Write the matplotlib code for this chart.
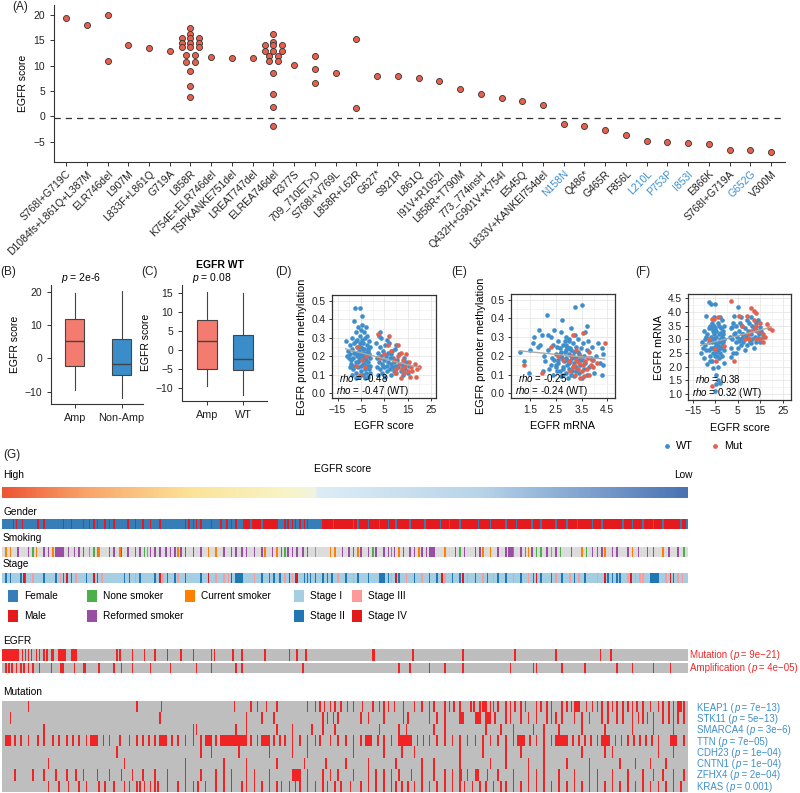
import numpy as np
import matplotlib
matplotlib.use("Agg")
import matplotlib.pyplot as plt
from matplotlib.colors import ListedColormap, LinearSegmentedColormap
from matplotlib.patches import Rectangle

plt.rcParams['font.family'] = ['Liberation Sans', 'DejaVu Sans']
plt.rcParams['mathtext.fontset'] = 'custom'
plt.rcParams['mathtext.it'] = 'Liberation Sans:italic'
plt.rcParams['mathtext.rm'] = 'Liberation Sans'
plt.rcParams['axes.edgecolor'] = '#333333'
plt.rcParams['axes.linewidth'] = 0.8
plt.rcParams['xtick.color'] = '#333333'
plt.rcParams['ytick.color'] = '#333333'
plt.rcParams['xtick.labelcolor'] = '#222222'
plt.rcParams['ytick.labelcolor'] = '#222222'

# ---------------- data: panel A ----------------
a_labels = ["S768I+G719C", "D1084fs+L861Q+L387M", "ELR746del", "L907M", "L833F+L861Q",
            "G719A", "L858R", "K754E+ELR746del", "TSPKANKE751del", "LREAT747del",
            "ELREA746del", "R377S", "709_710ET>D", "S768I+V769L", "L858R+L62R",
            "G627*", "S921R", "L861Q", "I91V+R1052I", "L858R+T790M", "773_774insH",
            "Q432H+G901V+K754I", "E545Q", "L833V+KANKEI754del", "N158N", "Q486*",
            "G465R", "F856L", "L210L", "P753P", "I853I", "E866K", "S768I+G719A",
            "G652G", "V300M"]
a_silent = ["N158N", "L210L", "P753P", "I853I", "G652G"]
a_scores = [
    [19.4], [18.0], [20.1, 10.9], [14.1], [13.4], [13.0],
    [17.4, 16.3, 15.5, 15.5, 15.5, 14.5, 14.5, 14.5, 13.6, 13.6, 13.6,
     12.1, 12.1, 10.7, 10.7, 8.9, 6.0, 3.8],
    [11.7], [11.5], [11.5],
    [16.3, 14.7, 14.0, 14.0, 14.0, 13.0, 13.0, 13.0, 12.0, 12.0, 11.0, 11.0,
     8.6, 4.5, 1.9, -2.0],
    [10.1], [11.9, 9.3, 6.6], [8.5], [15.3, 1.7],
    [8.0], [8.0], [7.6], [6.9], [5.3], [4.5], [3.7], [3.0], [2.2],
    [-1.5], [-2.0], [-2.7], [-3.8], [-4.8], [-5.1], [-5.3], [-5.4], [-6.7], [-6.7], [-7.1]]
a_cutoff = -0.3

# ---------------- data: panels B, C (box stats) ----------------
b_groups = ["Amp", "Non-Amp"]
b_med = [5.3, -1.7]
b_q1 = [-2.2, -5.0]
b_q3 = [11.7, 5.9]
b_lo = [-9.5, -12.0]
b_hi = [19.5, 20.2]

c_groups = ["Amp", "WT"]
c_med = [2.5, -2.2]
c_q1 = [-5.0, -5.1]
c_q3 = [8.0, 3.9]
c_lo = [-9.5, -11.8]
c_hi = [15.4, 15.0]

# ---------------- data: panel D (EGFR score vs methylation) ----------------
d_wt_x = [-11.5, -10.5, -10, -9.8, -9.5, -9.2, -9, -8.7, -8.5, -8.3, -8, -7.8, -7.6, -7.5, -7.3,
          -7, -7, -6.8, -6.6, -6.5, -6.3, -6.2, -6, -5.9, -5.8, -5.6, -5.5, -5.4, -5.3, -5.1,
          -5, -4.9, -4.8, -4.6, -4.5, -4.4, -4.3, -4.1, -4, -3.9, -3.8, -3.6, -3.5, -3.4, -3.2,
          -3.1, -3, -2.9, -2.8, -2.6, -2.5, -2.4, -2.2, -2.1, -2, -1.9, -1.7, -1.6, -1.5, -1.3,
          -1.2, -1.1, -1, -8.8, -6.9, -4.7, -3.3, -5.7, -7.2, -9.6,
          1.5, 1.8, 2, 2.2, 2.5, 2.8, 3, 3.3, 3.5, 3.8, 4, 4.2, 4.5, 4.8, 5, 5.3, 5.5, 5.8, 6,
          6.3, 6.5, 6.8, 7, 7.3, 7.5, 7.8, 8, 8.3, 8.5, 8.8, 9, 9.3, 9.5, 9.8, 10, 10.5, 11,
          11.5, 12, 12.5, 13, 13.5, 14, 14.5, 15, 15.5, 3.2, 6.2, 2.6, 10.2,
          -10.8, -9.3, -8.1, -6.4, -5.2, -4.2, -3.7, -2.7, -1.8, -6.1, -7.9, -4.0, 4.6, 7.7, 9.1, 12.8]
d_wt_y = [0.28, 0.23, 0.19, 0.26, 0.21, 0.16, 0.30, 0.24, 0.13, 0.19, 0.27, 0.39, 0.22, 0.46, 0.17,
          0.33, 0.11, 0.25, 0.20, 0.29, 0.14, 0.36, 0.23, 0.09, 0.18, 0.31, 0.27, 0.46, 0.21, 0.15,
          0.34, 0.12, 0.25, 0.19, 0.29, 0.42, 0.22, 0.16, 0.10, 0.27, 0.33, 0.20, 0.24, 0.13, 0.30,
          0.18, 0.36, 0.22, 0.11, 0.26, 0.15, 0.20, 0.31, 0.09, 0.24, 0.17, 0.28, 0.13, 0.21, 0.19,
          0.25, 0.15, 0.11, 0.10, 0.08, 0.37, 0.08, 0.25, 0.28, 0.14,
          0.27, 0.19, 0.14, 0.22, 0.10, 0.17, 0.25, 0.13, 0.20, 0.30, 0.16, 0.11, 0.23, 0.18, 0.14,
          0.26, 0.09, 0.20, 0.15, 0.12, 0.22, 0.17, 0.27, 0.13, 0.19, 0.10, 0.16, 0.23, 0.14, 0.19,
          0.12, 0.17, 0.24, 0.15, 0.11, 0.18, 0.14, 0.21, 0.12, 0.16, 0.10, 0.19, 0.13, 0.17, 0.11,
          0.15, 0.33, 0.29, 0.31, 0.26,
          0.20, 0.18, 0.22, 0.17, 0.19, 0.24, 0.16, 0.18, 0.23, 0.21, 0.15, 0.20, 0.15, 0.21, 0.14, 0.14]
d_mut_x = [2.5, 7, -6.2, -7.3, -4.5, -2.8, -5.5, -3.3, 3, 5, 6.5, 8, 9, 10, 11, 11.5, 12, 12.5, 13,
           13.5, 14, 14.5, 15, 15.5, 16, 16.5, 17, 18, 19, 20, 18.5, 12.2, 9.5, 11]
d_mut_y = [0.32, 0.31, 0.25, 0.15, 0.18, 0.20, 0.10, 0.14, 0.19, 0.21, 0.26, 0.23, 0.18, 0.13, 0.20,
           0.16, 0.22, 0.13, 0.18, 0.11, 0.15, 0.21, 0.12, 0.17, 0.09, 0.14, 0.12, 0.16, 0.13, 0.14,
           0.09, 0.08, 0.11, 0.26]

# ---------------- data: panel E (EGFR mRNA vs methylation) ----------------
e_wt_x = [2.1, 2.15, 2.2, 2.25, 2.3, 2.35, 2.4, 2.4, 2.45, 2.5, 2.5, 2.55, 2.6, 2.6, 2.65, 2.7,
          2.7, 2.72, 2.75, 2.78, 2.8, 2.82, 2.85, 2.88, 2.9, 2.9, 2.92, 2.95, 2.97, 3.0, 3.0,
          3.02, 3.05, 3.08, 3.1, 3.1, 3.12, 3.15, 3.18, 3.2, 3.2, 3.22, 3.25, 3.25, 3.28, 3.3,
          3.3, 3.35, 3.38, 3.4, 3.4, 3.45, 3.48, 3.5, 3.5, 3.52, 3.55, 3.58, 3.6, 3.62, 3.65,
          3.7, 3.7, 3.72, 3.75, 3.8, 3.85, 3.9, 3.95, 4.0, 4.05, 4.15, 4.2, 4.3, 4.35, 4.35, 4.3,
          1.1, 1.25, 1.45, 1.5, 1.6, 1.65, 1.8, 1.9, 1.95, 2.0, 2.05, 1.85,
          2.6, 2.7, 2.8, 2.85, 2.95, 3.05, 3.15, 2.75, 2.65, 3.35, 2.55, 2.45, 3.0, 2.9, 2.3, 2.2,
          2.62, 2.88, 3.12, 3.42, 2.52, 2.78, 3.02, 3.28, 2.68, 2.98]
e_wt_y = [0.17, 0.42, 0.23, 0.13, 0.30, 0.19, 0.10, 0.26, 0.34, 0.21, 0.15, 0.12, 0.28, 0.18, 0.24,
          0.09, 0.33, 0.20, 0.39, 0.14, 0.26, 0.17, 0.22, 0.11, 0.30, 0.19, 0.15, 0.25, 0.08, 0.21,
          0.13, 0.28, 0.17, 0.35, 0.23, 0.10, 0.19, 0.14, 0.27, 0.16, 0.22, 0.09, 0.46, 0.31, 0.19,
          0.12, 0.25, 0.17, 0.29, 0.21, 0.11, 0.15, 0.24, 0.47, 0.18, 0.08, 0.27, 0.13, 0.20, 0.33,
          0.16, 0.36, 0.10, 0.23, 0.28, 0.14, 0.19, 0.25, 0.18, 0.11, 0.20, 0.27, 0.16, 0.24, 0.21,
          0.15, 0.10,
          0.22, 0.17, 0.11, 0.23, 0.27, 0.30, 0.25, 0.26, 0.31, 0.12, 0.20, 0.34,
          0.16, 0.22, 0.13, 0.28, 0.18, 0.24, 0.20, 0.19, 0.12, 0.22, 0.25, 0.18, 0.16, 0.23, 0.15,
          0.31, 0.20, 0.26, 0.12, 0.18, 0.14, 0.10, 0.29, 0.14, 0.21, 0.24]
e_mut_x = [1.25, 1.95, 2.3, 2.6, 2.8, 3.0, 3.05, 3.1, 3.15, 3.2, 3.25, 3.3, 3.35, 3.4, 3.45, 3.5,
           3.55, 3.55, 3.6, 3.65, 3.7, 3.75, 3.8, 3.8, 3.85, 3.95, 4.1, 4.4, 3.3, 3.45, 3.15, 3.9]
e_mut_y = [0.15, 0.11, 0.25, 0.20, 0.18, 0.17, 0.12, 0.20, 0.31, 0.15, 0.10, 0.18, 0.13, 0.16, 0.20,
           0.12, 0.32, 0.15, 0.09, 0.17, 0.13, 0.19, 0.22, 0.10, 0.15, 0.14, 0.16, 0.27, 0.23, 0.08,
           0.14, 0.18]

# ---------------- data: panel F (EGFR score vs mRNA) ----------------
f_wt_x = [-11.5, -11, -10.5, -10, -10, -9.5, -9, -9, -8.5, -8.5, -8, -8, -7.5, -7.5, -7, -7, -7,
          -6.5, -6.5, -6.5, -6, -6, -6, -5.5, -5.5, -5.5, -5, -5, -5, -5, -4.5, -4.5, -4.5, -4.5,
          -4, -4, -4, -4, -3.5, -3.5, -3.5, -3, -3, -3, -3, -2.5, -2.5, -2, -2, -2, -1.5, -1.5,
          -1, -1, -1, -9.5, -8, -7.5, -6, -5.5, -4.5, -3.5, -2.5, -8, -6.8, -5.2, -3.8, -2.2,
          -1.2, -7.2, -4.2, -9.2, -6.2, -5.8, -4.8, -3.2, -2.8, -1.8,
          1.5, 2, 2, 2.5, 3, 3, 3.5, 4, 4, 4.5, 5, 5, 5.5, 6, 6, 6.5, 7, 7, 7.5, 8, 8, 8.5, 9, 9,
          9.5, 10, 10, 10.5, 11, 11, 11.5, 12, 12, 12.5, 13, 13, 13.5, 14, 14, 14.5, 15, 15, 15.5,
          16, 4, 6.5, 2.5, 7.5, 9.5, 5.5, 11.5, 3.3, 1.8, 3.8, 6.8, 8.8, 10.8, 12.8]
f_wt_y = [2.5, 2.9, 2.7, 3.3, 2.3, 3.0, 3.85, 2.6, 3.2, 2.1, 4.35, 2.9, 3.5, 2.4, 4.28, 3.1, 2.7,
          3.6, 2.9, 2.2, 3.3, 2.5, 1.95, 3.0, 3.8, 2.7, 4.3, 3.4, 2.4, 1.1, 3.1, 2.8, 1.35, 1.7,
          3.6, 2.6, 1.5, 2.0, 3.2, 2.9, 2.3, 3.8, 3.0, 2.5, 1.4, 3.4, 2.7, 3.1, 2.4, 3.7, 2.9, 3.3,
          2.6, 3.0, 2.15, 2.8, 3.4, 3.0, 3.0, 3.2, 3.3, 3.5, 3.0, 2.6, 3.4, 2.9, 2.75, 2.8,
          3.5, 2.2, 2.4, 3.1, 2.7, 3.5, 2.55, 2.7, 3.25, 3.2,
          3.1, 2.7, 3.4, 3.0, 3.6, 2.5, 3.2, 2.9, 3.5, 3.1, 4.2, 2.7, 3.3, 3.0, 3.6, 2.8, 3.2, 3.5,
          2.9, 3.4, 2.6, 3.1, 3.7, 2.8, 3.3, 3.0, 3.6, 2.9, 3.2, 3.8, 3.0, 3.4, 2.7, 3.1, 3.6, 2.9,
          3.3, 3.05, 3.7, 3.2, 3.45, 2.9, 3.3, 3.1, 2.5, 3.8, 3.45, 3.2, 3.05, 2.95, 3.5, 3.85,
          2.35, 3.25, 3.05, 3.15, 2.85, 3.35]
f_mut_x = [-6.5, -5.5, -4, -8, -5, -1, -6.5, -4.5, 3.5, 2, 5.5, 7, 9, 10, 8, 11, 12, 13, 12, 13,
           14, 15, 16, 17, 18, 19, 20, 15, 11, 13, 9.5, 16, 12.5]
f_mut_y = [3.75, 3.75, 3.8, 3.0, 2.65, 2.75, 1.3, 2.2, 2.2, 4.4, 3.85, 3.5, 3.85, 3.0, 3.0, 4.15,
           4.05, 3.95, 3.7, 3.5, 3.3, 3.6, 3.2, 3.1, 3.55, 3.4, 3.35, 3.0, 3.3, 3.0, 3.2, 2.9, 3.4]

# ---------------- data: panel G (sample tracks, samples sorted by EGFR score) ----------------
n_samples = 450
gender_male = [(158, 181), (210, 450), 7, 9, 13, 23, 27, 40, 45, 53, 57, 60, 62, 67, 70, 73, 82,
               87, 92, 97, 103, 120, 122, 125, 127, 130, 137, 143, 147, 150, 153, 185, 187, 190,
               192, 195, 198, 200]
gender_female = [163, 170, 217, 230, 233, 240, 247, 253, 258, 267, 277, 287, 293, 300, 312, 320,
                 330, 337, 347, 353, 363, 370, 377, 387, 393, 407, 413, 420, 427, 433, 445, 449]

smoke_reformed = [10, 17, 27, 30, (35, 41), 43, 47, 50, 53, 70, 73, 78, 82, 87, 90, 97, 100, 103,
                  107, 110, 113, 117, 120, 125, 130, 145, 150, 153, 157, 160, 165, 170, 177, 183,
                  187, 190, 193, 197, 200, 223, 227, 230, 235, 240, 245, 250, 253, 257, 263, 267,
                  270, 275, 278, (280, 284), 297, 303, 310, 313, 325, 330, (332, 335), 340, 347,
                  357, 363, 373, 387, 390, 393, 400, 403, 410, 417, 423, 427, 437, 443]
smoke_current = [2, 5, 22, 33, 57, 63, 77, 95, 115, 135, 140, 172, 180, 205, 215, 218, 233, 260,
                 273, 290, 315, 320, 345, 360, 380, 395, 413, 433]
smoke_never = [20, 60, 62, 93, 185, 243, 255, 300, 335, 343, 350, 353, 366, 383, 447]

stage_2 = [2, 5, 12, 15, 27, 35, 40, 45, 55, 62, 80, 83, 90, 100, 108, 113, 120, 130, (153, 158),
           170, 175, 178, 182, 198, 200, 202, 205, 210, 213, 216, 225, 233, 240, (247, 251), 253,
           260, 270, 280, 285, 295, 300, 310, 318, 325, 330, 340, 348, 353, 360, 367, 375, 382,
           397, 400, 403, 405, (425, 431), 440]
stage_3 = [20, 38, 48, 65, 87, 105, 115, 140, 145, 148, 165, 185, 190, 220, 230, 255, 265, 275,
           290, 305, 315, 322, 335, 345, 363, 372, 378, 390, 410, 415, 418, 420, 435, 443, 446]
stage_4 = [14, 42, 60, 103, 135, 150, 188, 192, 193, 258, 288, 302, 350, 395, 412, 438]

egfr_mutation = [(0, 11), 13, 15, 17, 19, 22, 24, 27, 29, 32, 33, (37, 42), (45, 49), 75, 77,
                 85, 93, 100, 108, 117, 125, 137, 139, 151, 157, 172, 188, 193, 199, 243, 244,
                 269, 302, 336, 363, 392, 399]
egfr_amp = [2, 4, 6, 9, 12, 14, 17, 20, 24, 32, (38, 41), 47, 53, 54, 63, 73, 78, 85, 97, 110,
            127, 137, 153, 157, 197, 260, 267, 280, 290, 302, 333, 348, 350, 367, 382, 403, 413,
            427, 438]
egfr_names = ["Mutation", "Amplification"]
egfr_p = ["9e\u221221", "4e\u221205"]

mut_genes = ["KEAP1", "STK11", "SMARCA4", "TTN", "CDH23", "CNTN1", "ZFHX4", "KRAS"]
mut_p = ["7e\u221213", "5e\u221213", "3e\u22126", "7e\u221205", "1e\u221204", "1e\u221204",
         "2e\u221204", "0.001"]
mut_hits = [
    [17, 88, 104, 152, 163, 167, 173, 180, 200, 205, 208, 211, 215, 218, 222, 226, 230, 236,
     243, 247, 250, 253, 257, 263, 270, 275, 280, 283, 290, 293, 296, 300, 307, 309, 313,
     (315, 318), 320, 322, 325, 330, 333, 336, 340, 343, 350, 353, 357, 360, 367, 370, 373,
     (375, 379), 383, 387, 390, 393, 397, 400, 403, 407, 410, 413, 416, 420, 425, 430, 433,
     437, 440, (443, 446), 447],
    [5, 103, 160, 170, 178, 210, 213, 217, 220, 235, 240, 250, 263, 266, 280, 285, 290,
     (300, 303), (310, 314), (317, 321), 323, 330, 333, 340, 345, 350, 357, 360, 363, 367, 375,
     380, 385, 393, 397, 403, 407, 413, 417, 420, 423, 427, 433, 437, 440, 443, 447],
    [27, 125, 127, 153, 160, 180, 190, 203, 210, 218, 247, 260, 265, 283, 290, 317, 327, 335,
     348, 355, 365, 380, 395, 413, 427, 440],
    [(2, 6), 8, 12, 17, 23, 27, 33, 37, 42, 46, 50, 55, (58, 63), 66, 70, 77, 83, 88, 92, 96, 100,
     (103, 108), 111, 115, 120, 125, 130, (133, 138), 140, (143, 161), 163, 167, (170, 176), 178,
     182, 185, 190, 195, 200, 205, 208, 215, 220, 225, 230, 235, (238, 243), 246, 250, 255,
     (260, 269), 272, 276, 280, 285, 290, 295, 300, 305, 310, 315, 320, 325, 330, 335,
     (338, 343), 346, 350, 355, 360, (363, 371), 374, 378, 382, 386, 390, (393, 399), 402, 406,
     410, 414, 418, 422, 426, 430, (438, 443), 447],
    [75, 130, 137, 155, 175, 190, 200, 230, 250, 262, 270, 300, 315, 330, 340, 355, 380, 395,
     400, 430, 440],
    [30, 80, 120, 145, 160, 180, 198, 212, 225, 240, 258, 275, 283, 300, 320, 330, 345, 355,
     370, 385, 405, 415, 425, 435],
    [8, 20, 27, 35, 42, 48, 53, 62, 70, 78, 85, 92, 100, 108, 120, 130, 140, 145, 150, 160, 165,
     175, (190, 196), 200, 210, 215, 220, 230, 240, 245, 250, 255, 260, 268, 275, 283, 290, 295,
     (300, 302), 305, (310, 313), 318, 325, 335, 345, 350, 355, 365, 375, 385, 390, 400, 410,
     420, 427, 433, 440, 447],
    [30, 37, 43, 50, 55, 63, 67, 73, 80, 83, 88, 90, 93, 97, 100, 102, 108, 115, 120, 125, 128,
     133, 140, 145, 150, 157, 160, 165, 170, 175, 180, 183, 188, 192, 195, 200, 205, 210, 213,
     218, 222, 228, 235, 240, 245, 250, 255, 258, 262, 266, 270, 275, 280, 285, 290, 295, 300,
     303, 308, 313, 317, 322, 327, 330, 335, 340, 345, 350, 355, 360, 365, 370, 375, 380, 385,
     390, 395, 400, 405, 410, 415, 420, 425, 430, 435, 440, 445],
]

# ---------------- colours ----------------
DOT_RED = '#E8604C'
WT_BLUE = '#3E8ECB'
MUT_RED = '#E26250'
AMP_BOX = '#F37B70'
OTHER_BOX = '#3A8DC8'
LABEL_BLUE = '#3D8FCC'
LABEL_RED = '#EE2A2A'
HIT_RED = '#F02424'
GREY = '#BEBEBE'

W, H = 800, 793
fig = plt.figure(figsize=(W / 100, H / 100), dpi=100)


def box(x0, y0, x1, y1):
    return [x0 / W, 1 - y1 / H, (x1 - x0) / W, (y1 - y0) / H]


def track(entries, base=0):
    arr = np.full(n_samples, base)
    for code, idx in entries:
        for i in idx:
            if isinstance(i, tuple):
                arr[i[0]:i[1]] = code
            else:
                arr[i] = code
    return arr


# ---------------- (A) ----------------
ax = fig.add_axes(box(54, 5, 785, 161.8))
spacing = 0.42
for i, vals in enumerate(a_scores):
    counts = {}
    for v in vals:
        counts[v] = counts.get(v, 0) + 1
    for v, n in counts.items():
        xs = i + (np.arange(n) - (n - 1) / 2) * spacing
        ax.scatter(xs, [v] * n, s=19, color=DOT_RED, edgecolor='#333333', linewidth=0.6, zorder=3)
ax.axhline(a_cutoff, color='#333333', lw=0.9, dashes=(5, 4))
ax.set_xlim(-0.58, 34.67)
ax.set_ylim(-9, 22)
ax.set_yticks([-5, 0, 5, 10, 15, 20])
ax.set_yticklabels([('{:g}'.format(v)).replace('-', '\u2212') for v in [-5, 0, 5, 10, 15, 20]])
ax.set_xticks(range(len(a_labels)))
ax.set_xticklabels(a_labels, rotation=45, ha='right', rotation_mode='anchor', fontsize=7.5)
for lbl in ax.get_xticklabels():
    if lbl.get_text() in a_silent:
        lbl.set_color(LABEL_BLUE)
ax.tick_params(labelsize=7.5, length=3, width=0.7)
ax.tick_params(axis='x', labelsize=7.5, pad=2)
for s in ['top', 'right']:
    ax.spines[s].set_visible(False)
ax.set_ylabel("EGFR score", fontsize=7.5, labelpad=4)


# ---------------- (B) & (C) ----------------
def boxpanel(rect, groups, med, q1, q3, lo, hi, width, xlim, ylim, yticks):
    a = fig.add_axes(rect)
    stats = [dict(label=g, med=m, q1=l1, q3=l3, whislo=wl, whishi=wh)
             for g, m, l1, l3, wl, wh in zip(groups, med, q1, q3, lo, hi)]
    props = dict(color='#444444', linewidth=0.8)
    bp = a.bxp(stats, positions=[1, 2], widths=width, patch_artist=True, showfliers=False,
               showcaps=False, boxprops=props, whiskerprops=props,
               medianprops=dict(color='#444444', linewidth=1.0))
    for patch, col in zip(bp['boxes'], [AMP_BOX, OTHER_BOX]):
        patch.set_facecolor(col)
    a.set_xlim(*xlim)
    a.set_ylim(*ylim)
    a.set_yticks(yticks)
    a.set_yticklabels([('{:g}'.format(v)).replace('-', '\u2212') for v in yticks])
    a.tick_params(labelsize=7.5, length=3, width=0.7)
    a.tick_params(axis='x', labelsize=7.8)
    for s in ['top', 'right']:
        a.spines[s].set_visible(False)
    a.set_ylabel("EGFR score", fontsize=7.5, labelpad=3)
    return a


axb = boxpanel(box(51, 285, 143, 404), b_groups, b_med, b_q1, b_q3, b_lo, b_hi, 0.41,
               (0.49, 2.46), (-13.7, 22), [-10, 0, 10, 20])
axb.text(0.33, 1.0, "$p$ = 2e-6", transform=axb.transAxes, ha='center', va='bottom', fontsize=7.5)
axc = boxpanel(box(182.3, 285, 266.7, 400.7), c_groups, c_med, c_q1, c_q3, c_lo, c_hi, 0.56,
               (0.31, 2.65), (-13.3, 17.2), [-10, -5, 0, 5, 10, 15])
axc.text(0.35, 1.0, "$p$ = 0.08", transform=axc.transAxes, ha='center', va='bottom', fontsize=7.5)


# ---------------- (D), (E), (F) ----------------
def scatterpanel(rect, wx, wy, mx, my, xlim, ylim, xt, xminor, yt, yminor, xlab, ylab, rho, yfmt):
    a = fig.add_axes(rect)
    a.set_axisbelow(True)
    a.set_xticks(xt)
    a.set_xticks(xminor, minor=True)
    a.set_yticks(yt)
    a.set_yticks(yminor, minor=True)
    a.grid(True, which='major', color='#E6E6E6', lw=0.6)
    a.grid(True, which='minor', color='#EFEFEF', lw=0.45)
    a.tick_params(which='minor', length=0)
    a.scatter(wx, wy, s=11, color=WT_BLUE, linewidth=0, zorder=2)
    a.scatter(mx, my, s=11, color=MUT_RED, linewidth=0, zorder=3)
    allx = np.array(wx + mx, dtype=float)
    ally = np.array(wy + my, dtype=float)
    k, b0 = np.polyfit(allx, ally, 1)
    lx = np.array([allx.min(), allx.max()])
    a.plot(lx, k * lx + b0, color='#AAAAAA', lw=1.0, zorder=4)
    a.set_xlim(*xlim)
    a.set_ylim(*ylim)
    a.set_yticklabels([yfmt.format(v) for v in yt])
    a.set_xticklabels([('{:g}'.format(v)).replace('-', '\u2212') for v in xt])
    a.tick_params(labelsize=7.3, length=2.5, width=0.7, pad=2)
    for s in a.spines.values():
        s.set_linewidth(0.9)
    a.set_xlabel(xlab, fontsize=7.8, labelpad=5)
    a.set_ylabel(ylab, fontsize=7.8, labelpad=3)
    a.text(0.07, 0.195, "$rho$ = " + rho[0], transform=a.transAxes, fontsize=7.0, va='center', zorder=5)
    a.text(0.04, 0.07, "$rho$ = " + rho[1] + " (WT)", transform=a.transAxes, fontsize=7.0,
           va='center', zorder=5)
    return a


scatterpanel(box(331.7, 295, 435.7, 398.3), d_wt_x, d_wt_y, d_mut_x, d_mut_y, (-17.5, 27),
             (-0.027, 0.531), [-15, -5, 5, 15, 25], [-10, 0, 10, 20],
             [0, 0.1, 0.2, 0.3, 0.4, 0.5], np.arange(0.05, 0.5, 0.1),
             "EGFR score", "EGFR promoter methylation", ["-0.48", "-0.47"], "{:.1f}")
scatterpanel(box(510.7, 294, 615, 398.3), e_wt_x, e_wt_y, e_mut_x, e_mut_y, (0.75, 4.8),
             (-0.027, 0.531), [1.5, 2.5, 3.5, 4.5], [1, 2, 3, 4],
             [0, 0.1, 0.2, 0.3, 0.4, 0.5], np.arange(0.05, 0.5, 0.1),
             "EGFR mRNA", "EGFR promoter methylation", ["-0.25", "-0.24"], "{:.1f}")
scatterpanel(box(688.3, 294, 790.7, 400), f_wt_x, f_wt_y, f_mut_x, f_mut_y, (-17, 28.5),
             (0.78, 4.66), [-15, -5, 5, 15, 25], [-10, 0, 10, 20],
             [1.0, 1.5, 2.0, 2.5, 3.0, 3.5, 4.0, 4.5], np.arange(1.25, 4.5, 0.5),
             "EGFR score", "EGFR mRNA", ["0.38", "0.32"], "{:.1f}")

# ---------------- (G) ----------------
grad = LinearSegmentedColormap.from_list('egfr', [
    (0.0, '#EE5533'), (0.12, '#F9A468'), (0.27, '#FCE296'), (0.42, '#F8F5C9'),
    (0.455, '#EFF4E0'), (0.46, '#DDEDF7'), (0.7, '#B7D4E9'), (1.0, '#4A72B4')])
axg = fig.add_axes(box(2, 487, 688, 498))
axg.imshow(np.linspace(0, 1, n_samples)[None, :], aspect='auto', cmap=grad, interpolation='bilinear')
axg.axis('off')

gender = track([(1, gender_male), (0, gender_female)])
smoking = track([(3, smoke_reformed), (2, smoke_current), (1, smoke_never)])
stage = track([(1, stage_2), (2, stage_3), (3, stage_4)])
tracks = [
    ((519, 529), gender, ['#377EB8', '#E41A1C']),
    ((547, 557), smoking, ['#DCDCDC', '#4DAF4A', '#FF7F00', '#984EA3']),
    ((573, 583), stage, ['#A6CEE3', '#1F78B4', '#FB9A99', '#E31A1C']),
    ((649, 661), track([(1, egfr_mutation)]), [GREY, HIT_RED]),
    ((662.5, 673.5), track([(1, egfr_amp)]), [GREY, HIT_RED]),
]
for (y0, y1), arr, cols in tracks:
    a = fig.add_axes(box(2, y0, 688, y1))
    a.imshow(arr[None, :], aspect='auto', cmap=ListedColormap(cols), vmin=-0.5,
             vmax=len(cols) - 0.5, interpolation='nearest')
    a.axis('off')

mut = np.vstack([track([(1, hits)]) for hits in mut_hits])
axm = fig.add_axes(box(2, 701, 688, 792))
axm.imshow(mut, aspect='auto', cmap=ListedColormap([GREY, HIT_RED]), vmin=-0.5, vmax=1.5,
           interpolation='nearest')
axm.axis('off')

# ---------------- overlay text / legends (pixel coords) ----------------
ov = fig.add_axes([0, 0, 1, 1])
ov.set_xlim(0, W)
ov.set_ylim(H, 0)
ov.axis('off')

for lab, x, y in [("(A)", 20, 7), ("(B)", 8, 272), ("(C)", 150, 272), ("(D)", 283, 272),
                  ("(E)", 459, 272), ("(F)", 643, 272), ("(G)", 12, 455)]:
    ov.text(x, y, lab, ha='center', va='center', fontsize=8.5, color='#222222')
ov.text(220, 265, "EGFR WT", ha='center', va='center', fontsize=7.5, fontweight='bold')

ov.scatter([666.7], [445.7], s=12, color=WT_BLUE, linewidth=0)
ov.text(676, 445.7, "WT", va='center', fontsize=7.8)
ov.scatter([715], [445.7], s=12, color=MUT_RED, linewidth=0)
ov.text(724, 445.7, "Mut", va='center', fontsize=7.8)

ov.text(3, 475, "High", va='center', fontsize=7.3)
ov.text(343, 469, "EGFR score", ha='center', va='center', fontsize=7.5)
ov.text(683, 475, "Low", ha='center', va='center', fontsize=7.3)
for lab, y in [("Gender", 512), ("Smoking", 538), ("Stage", 564), ("EGFR", 641), ("Mutation", 692)]:
    ov.text(3, y, lab, va='center', fontsize=7.3)

legend_items = [("Female", '#377EB8', 13, 596), ("Male", '#E41A1C', 13, 616),
                ("None smoker", '#4DAF4A', 92, 596), ("Reformed smoker", '#984EA3', 92, 616),
                ("Current smoker", '#FF7F00', 190, 596),
                ("Stage I", '#A6CEE3', 298.5, 596), ("Stage II", '#1F78B4', 298.5, 616),
                ("Stage III", '#FB9A99', 357, 596), ("Stage IV", '#E31A1C', 357, 616)]
for lab, col, x, y in legend_items:
    ov.add_patch(Rectangle((x - 5, y - 6), 10, 12, facecolor=col, edgecolor='none'))
    ov.text(x + 11, y, lab, va='center', fontsize=7.3)


def p_label(x, y, name, pval, color, size):
    # "NAME (p = value)" with an italic p, built from plain text pieces
    t1 = ov.text(x, y, name + " (", va='center', fontsize=size, color=color)
    t2 = ov.annotate("p", xy=(1, 0.5), xycoords=t1, va='center', ha='left',
                     fontsize=size, color=color, style='italic')
    ov.annotate(" = " + pval + ")", xy=(1, 0.5), xycoords=t2, va='center', ha='left',
                fontsize=size, color=color)


for name, pv, y in zip(egfr_names, egfr_p, [655, 668]):
    p_label(690, y, name, pv, LABEL_RED, 7.0)
for k, (name, pv) in enumerate(zip(mut_genes, mut_p)):
    p_label(697, 707.7 + k * 11.3, name, pv, LABEL_BLUE, 6.9)

fig.savefig("out.png", dpi=100)
